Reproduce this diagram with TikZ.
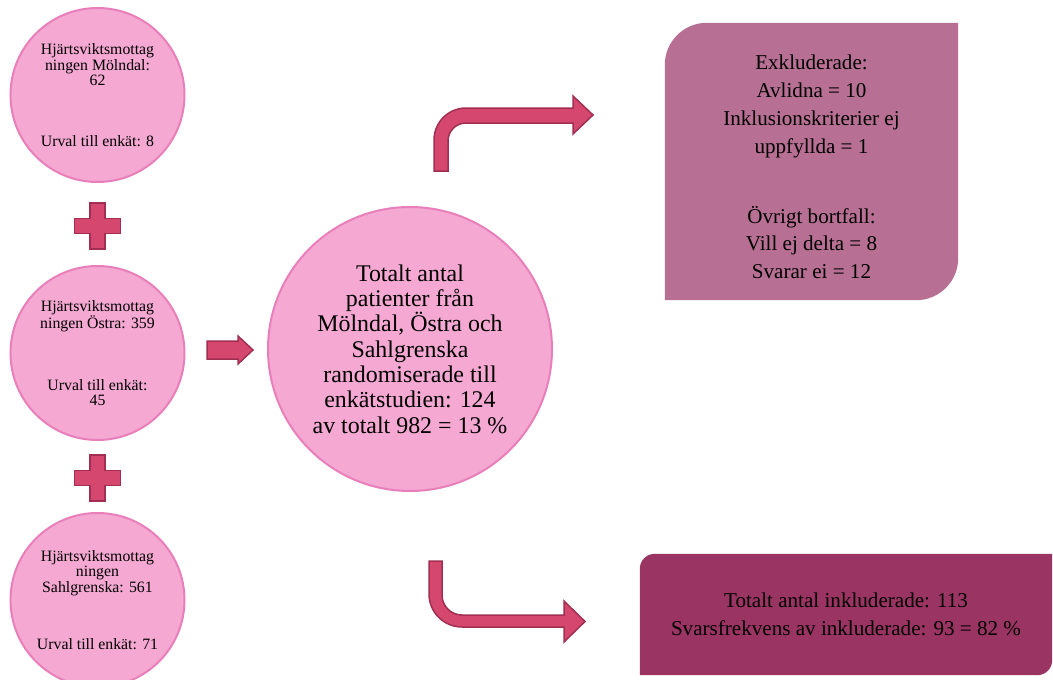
\documentclass[tikz,border=0pt]{standalone}
\usepackage{fontspec}
\setmainfont{Liberation Serif}
\usepackage{tikz}
\usetikzlibrary{calc}
\definecolor{sitepink}{HTML}{F4A8D2}
\definecolor{siteedge}{HTML}{E97FBA}
\definecolor{arrowrose}{HTML}{D5476F}
\definecolor{arrowedge}{HTML}{A02F52}
\definecolor{exclmauve}{HTML}{B77094}
\definecolor{inclplum}{HTML}{9A3462}
\tikzset{
  sitecircle/.style={circle,draw=siteedge,fill=sitepink,line width=2pt,
    minimum size=174pt,inner sep=0pt,align=center,
    font=\fontsize{15.8}{15.5}\selectfont},
  totalcircle/.style={sitecircle,minimum size=284pt,
    font=\fontsize{23.9}{25.3}\selectfont},
  blockarrow/.style={draw=arrowedge,fill=arrowrose,line width=1.5pt},
  boxframe/.style={inner sep=0pt},
  boxtext/.style={align=center,font=\fontsize{21.1}{27.8}\selectfont}
}

\begin{document}
\begin{tikzpicture}[x=1pt,y=1pt]
\useasboundingbox (0,0) rectangle (1053,-680);

% the three clinics
\node[sitecircle] (molndal) at (97.5,-95) {Hjärtsviktsmottag\\ningen Mölndal:\\62\\[45pt]Urval till enkät: 8};
\node[sitecircle] (ostra) at (97.5,-353) {Hjärtsviktsmottag\\ningen Östra: 359\\[46pt]Urval till enkät:\\45};
\node[sitecircle] (sahlgr) at (97.5,-600) {Hjärtsviktsmottag\\ningen\\Sahlgrenska: 561\\[42pt]Urval till enkät: 71};

\foreach \py in {226,478}
  \draw[blockarrow,shift={(97.5,-\py)}] (-7.5,23) -- (7.5,23) -- (7.5,7.5) -- (23,7.5)
    -- (23,-7.5) -- (7.5,-7.5) -- (7.5,-23) -- (-7.5,-23) -- (-7.5,-7.5) -- (-23,-7.5)
    -- (-23,7.5) -- (-7.5,7.5) -- cycle;

% total
\node[totalcircle] (total) at (410,-349) {Totalt antal\\patienter från\\Mölndal, Östra och\\Sahlgrenska\\randomiserade till\\enkätstudien: 124\\av totalt 982 = 13 \%};

\draw[blockarrow] (207,-341) -- (238,-341) -- (238,-336) -- (253,-350) -- (238,-364)
  -- (238,-359) -- (207,-359) -- cycle;

% bent arrows
\draw[blockarrow] (434,-171) -- (434,-140) arc[start angle=180,end angle=90,radius=32]
  -- (573,-108) -- (573,-96) -- (593,-115) -- (573,-134) -- (573,-123) -- (466,-123)
  arc[start angle=90,end angle=180,radius=18] -- (448,-171) -- cycle;
\draw[blockarrow] (429,-561) -- (429,-594) arc[start angle=180,end angle=270,radius=33]
  -- (564,-627) -- (564,-642) -- (585,-621.5) -- (564,-601) -- (564,-615) -- (462,-615)
  arc[start angle=270,end angle=180,radius=20] -- (442,-561) -- cycle;

% excluded
\node[boxframe,minimum width=293pt,minimum height=277pt] (excl) at (811.5,-161.5) {};
\fill[exclmauve] (excl.south west) -- ([yshift=-42pt]excl.north west)
  arc[start angle=180,end angle=90,radius=42] -- (excl.north east)
  -- ([yshift=42pt]excl.south east) arc[start angle=0,end angle=-90,radius=42] -- cycle;
\node[boxtext] (excltext) at ([yshift=-5.5pt]excl.center) {Exkluderade:\\Avlidna = 10\\Inklusionskriterier ej\\uppfyllda = 1\\[42pt]Övrigt bortfall:\\Vill ej delta = 8\\Svarar ei = 12};

% included
\node[boxframe,minimum width=412pt,minimum height=121pt] (incl) at (846,-614.5) {};
\fill[inclplum] (incl.south west) -- ([yshift=-15pt]incl.north west)
  arc[start angle=180,end angle=90,radius=15] -- (incl.north east)
  -- ([yshift=15pt]incl.south east) arc[start angle=0,end angle=-90,radius=15] -- cycle;
\node[boxtext] (incltext) at (incl.center) {Totalt antal inkluderade: 113\\Svarsfrekvens av inkluderade: 93 = 82 \%};
\end{tikzpicture}
\end{document}
